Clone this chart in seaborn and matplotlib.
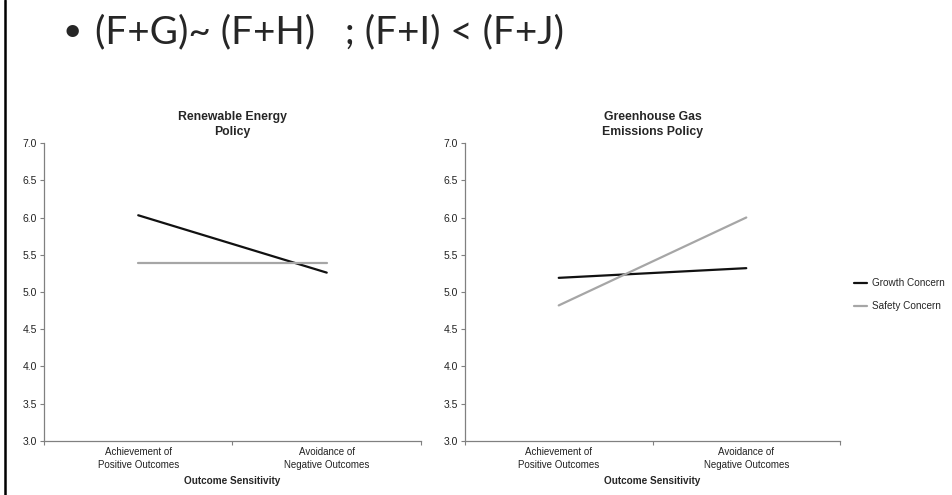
import pandas as pd
import seaborn as sns
import matplotlib.pyplot as plt
from matplotlib.lines import Line2D
from matplotlib.ticker import FixedLocator, FormatStrFormatter

categories = ["Achievement of\nPositive Outcomes", "Avoidance of\nNegative Outcomes"]
concerns = ["Growth Concern", "Safety Concern"]

renewable_growth = [6.03, 5.26]
renewable_safety = [5.39, 5.39]
ghg_growth = [5.19, 5.32]
ghg_safety = [4.82, 6.00]

panel_titles = ["Renewable Energy\nPolicy", "Greenhouse Gas\nEmissions Policy"]
y_ticks = [3.0, 3.5, 4.0, 4.5, 5.0, 5.5, 6.0, 6.5, 7.0]


def make_frame(growth, safety):
    return pd.DataFrame({
        "sensitivity": categories * 2,
        "concern": [concerns[0]] * 2 + [concerns[1]] * 2,
        "score": growth + safety,
    })


sns.set_style("white")
plt.rcParams["font.family"] = ["Liberation Sans", "DejaVu Sans"]

fig = plt.figure(figsize=(9.52, 4.95), dpi=100)
ax1 = fig.add_axes([0.0462, 0.1091, 0.396, 0.602])
ax2 = fig.add_axes([0.4884, 0.1091, 0.394, 0.602])

palette = {concerns[0]: "#111111", concerns[1]: "#a6a6a6"}
frames = [make_frame(renewable_growth, renewable_safety), make_frame(ghg_growth, ghg_safety)]

for ax, df, title in zip([ax1, ax2], frames, panel_titles):
    sns.lineplot(data=df, x="sensitivity", y="score", hue="concern", palette=palette,
                 linewidth=1.6, ax=ax, legend=False, sort=False)
    ax.set_xlim(-0.5, 1.5)
    ax.set_ylim(3.0, 7.0)
    ax.set_yticks(y_ticks)
    ax.yaxis.set_major_formatter(FormatStrFormatter("%.1f"))
    ax.xaxis.set_minor_locator(FixedLocator([-0.5, 0.5, 1.5]))
    ax.tick_params(axis="x", which="major", length=0, pad=4, labelsize=7, labelcolor="#222222")
    ax.tick_params(axis="x", which="minor", length=3, direction="out", color="#808080", width=0.8, bottom=True)
    ax.tick_params(axis="y", length=3, direction="out", color="#808080", width=0.8,
                   labelsize=7.5, labelcolor="#222222", pad=2, left=True)
    for lbl in ax.get_xticklabels():
        lbl.set_linespacing(1.45)
    for side in ["top", "right"]:
        ax.spines[side].set_visible(False)
    for side in ["left", "bottom"]:
        ax.spines[side].set_color("#808080")
        ax.spines[side].set_linewidth(0.9)
    ax.set_title(title, fontsize=8.8, fontweight="bold", pad=6, linespacing=1.3)
    ax.set_xlabel("Outcome Sensitivity", fontsize=7.2, fontweight="bold", labelpad=4)
    ax.set_ylabel("")

handles = [Line2D([0], [0], color=palette[c], linewidth=1.6) for c in concerns]
fig.legend(handles, concerns, loc="center left", bbox_to_anchor=(0.888, 0.405),
           frameon=False, fontsize=7.2, handlelength=1.3, handletextpad=0.5, labelspacing=1.3)

fig.text(0.066, 0.935, "\u2022", fontsize=24, family=["Lato", "DejaVu Sans"], va="center")
fig.text(0.1, 0.935, "(F+G)~ (F+H)   ; (F+I) < (F+J)", fontsize=27.8,
         family=["Lato", "DejaVu Sans"], va="center")

fig.add_artist(Line2D([0.005, 0.005], [0, 1], color="black", linewidth=1.8, transform=fig.transFigure))

fig.savefig("out.png", dpi=100)
